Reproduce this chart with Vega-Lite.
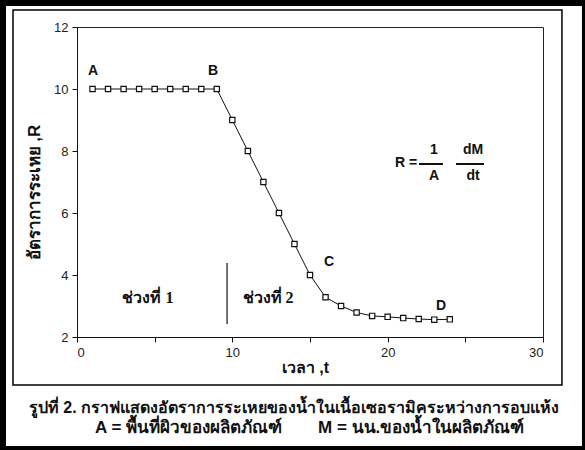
{
  "$schema": "https://vega.github.io/schema/vega-lite/v6.json",
  "width": 466,
  "height": 310,
  "autosize": {"type": "none"},
  "padding": {"left": 77, "top": 27, "right": 42, "bottom": 113},
  "background": "white",
  "config": {
    "view": {"stroke": "#222", "strokeWidth": 1},
    "axis": {"grid": false, "domainColor": "#111", "tickColor": "#111", "labelColor": "#222", "labelFont": "Liberation Sans", "labelFontSize": 13, "tickSize": 5, "titleColor": "#111"}
  },
  "datasets": {
    "frame": [{"x": -4.893, "x2": 32.83, "y": 12.839, "y2": -1.677}],
    "box": [{"x": -4.12, "x2": 31.22, "y": 12.548, "y2": 0.452}],
    "rate": [
      {"t": 1, "R": 10}, {"t": 2, "R": 10}, {"t": 3, "R": 10}, {"t": 4, "R": 10}, {"t": 5, "R": 10},
      {"t": 6, "R": 10}, {"t": 7, "R": 10}, {"t": 8, "R": 10}, {"t": 9, "R": 10}, {"t": 10, "R": 9},
      {"t": 11, "R": 8}, {"t": 12, "R": 7}, {"t": 13, "R": 6}, {"t": 14, "R": 5}, {"t": 15, "R": 4},
      {"t": 16, "R": 3.28}, {"t": 17, "R": 3.0}, {"t": 18, "R": 2.79}, {"t": 19, "R": 2.68}, {"t": 20, "R": 2.65},
      {"t": 21, "R": 2.61}, {"t": 22, "R": 2.58}, {"t": 23, "R": 2.56}, {"t": 24, "R": 2.57}
    ],
    "letters": [
      {"x": 1.03, "y": 10.58, "text": "A"},
      {"x": 8.76, "y": 10.58, "text": "B"},
      {"x": 16.22, "y": 4.42, "text": "C"},
      {"x": 23.43, "y": 3.0, "text": "D"},
      {"x": 21.18, "y": 7.61, "text": "R ="},
      {"x": 22.98, "y": 8.03, "text": "1"},
      {"x": 22.98, "y": 7.19, "text": "A"},
      {"x": 25.5, "y": 8.03, "text": "dM"},
      {"x": 25.5, "y": 7.19, "text": "dt"}
    ],
    "bars": [
      {"x": 22.02, "x2": 23.56, "y": 7.58},
      {"x": 24.4, "x2": 26.2, "y": 7.58}
    ],
    "divider": [{"x": 9.66, "y": 4.39, "y2": 2.42}],
    "phases": [
      {"x": 4.57, "y": 3.26, "text": "ช่วงที่ 1"},
      {"x": 12.3, "y": 3.26, "text": "ช่วงที่ 2"}
    ],
    "caption1": [{"x": 13.97, "y": -0.29, "text": "รูปที่ 2. กราฟแสดงอัตราการระเหยของน้ำในเนื้อเซอรามิคระหว่างการอบแห้ง"}],
    "caption2": [
      {"x": 1.16, "y": -0.95, "text": "A = พื้นที่ผิวของผลิตภัณฑ์"},
      {"x": 15.52, "y": -0.95, "text": "M = นน.ของน้ำในผลิตภัณฑ์"}
    ]
  },
  "layer": [
    {
      "data": {"name": "frame"},
      "mark": {"type": "rect", "fill": null, "stroke": "black", "strokeWidth": 10, "clip": false},
      "encoding": {
        "x": {"field": "x", "type": "quantitative"},
        "x2": {"field": "x2"},
        "y": {"field": "y", "type": "quantitative"},
        "y2": {"field": "y2"}
      }
    },
    {
      "data": {"name": "box"},
      "mark": {"type": "rect", "fill": null, "stroke": "black", "strokeWidth": 1.5, "clip": false},
      "encoding": {
        "x": {"field": "x", "type": "quantitative"},
        "x2": {"field": "x2"},
        "y": {"field": "y", "type": "quantitative"},
        "y2": {"field": "y2"}
      }
    },
    {
      "data": {"name": "rate"},
      "mark": {"type": "line", "color": "#111", "strokeWidth": 1},
      "encoding": {
        "x": {"field": "t", "type": "quantitative", "scale": {"domain": [0, 30], "nice": false},
          "axis": {"values": [0, 5, 10, 15, 20, 25, 30], "labelExpr": "datum.value % 10 == 0 ? datum.label : ''", "title": "เวลา ,t", "titleFontSize": 16, "titleFontWeight": "bold", "titleX": 228, "titleY": 30, "titleBaseline": "middle", "labelPadding": 4}},
        "y": {"field": "R", "type": "quantitative", "scale": {"domain": [2, 12], "nice": false, "zero": false},
          "axis": {"values": [2, 3, 4, 5, 6, 7, 8, 9, 10, 11, 12], "labelExpr": "datum.value % 2 == 0 ? datum.label : ''", "title": "อัตราการระเหย ,R", "titleFontSize": 17, "titleFontWeight": "bold", "titleX": -43, "titleY": 165, "titleBaseline": "middle", "labelPadding": 4}}
      }
    },
    {
      "data": {"name": "rate"},
      "mark": {"type": "point", "shape": "square", "size": 28, "filled": false, "fill": "white", "fillOpacity": 1, "stroke": "#111", "strokeWidth": 1.2, "opacity": 1},
      "encoding": {
        "x": {"field": "t", "type": "quantitative"},
        "y": {"field": "R", "type": "quantitative"}
      }
    },
    {
      "data": {"name": "divider"},
      "mark": {"type": "rule", "color": "#111", "strokeWidth": 1.2},
      "encoding": {
        "x": {"field": "x", "type": "quantitative"},
        "y": {"field": "y", "type": "quantitative"},
        "y2": {"field": "y2"}
      }
    },
    {
      "data": {"name": "bars"},
      "mark": {"type": "rule", "color": "#111", "strokeWidth": 2},
      "encoding": {
        "x": {"field": "x", "type": "quantitative"},
        "x2": {"field": "x2"},
        "y": {"field": "y", "type": "quantitative"}
      }
    },
    {
      "data": {"name": "letters"},
      "mark": {"type": "text", "font": "Liberation Sans", "fontSize": 14, "fontWeight": "bold", "color": "#111", "align": "center", "baseline": "middle"},
      "encoding": {
        "x": {"field": "x", "type": "quantitative"},
        "y": {"field": "y", "type": "quantitative"},
        "text": {"field": "text"}
      }
    },
    {
      "data": {"name": "phases"},
      "mark": {"type": "text", "font": "serif", "fontSize": 16, "fontWeight": "bold", "color": "#111", "align": "center", "baseline": "middle"},
      "encoding": {
        "x": {"field": "x", "type": "quantitative"},
        "y": {"field": "y", "type": "quantitative"},
        "text": {"field": "text"}
      }
    },
    {
      "data": {"name": "caption1"},
      "mark": {"type": "text", "fontSize": 16, "fontWeight": "bold", "color": "#111", "align": "center", "baseline": "middle", "clip": false},
      "encoding": {
        "x": {"field": "x", "type": "quantitative"},
        "y": {"field": "y", "type": "quantitative"},
        "text": {"field": "text"}
      }
    },
    {
      "data": {"name": "caption2"},
      "mark": {"type": "text", "fontSize": 17, "fontWeight": "bold", "color": "#111", "align": "left", "baseline": "middle", "clip": false},
      "encoding": {
        "x": {"field": "x", "type": "quantitative"},
        "y": {"field": "y", "type": "quantitative"},
        "text": {"field": "text"}
      }
    }
  ]
}
